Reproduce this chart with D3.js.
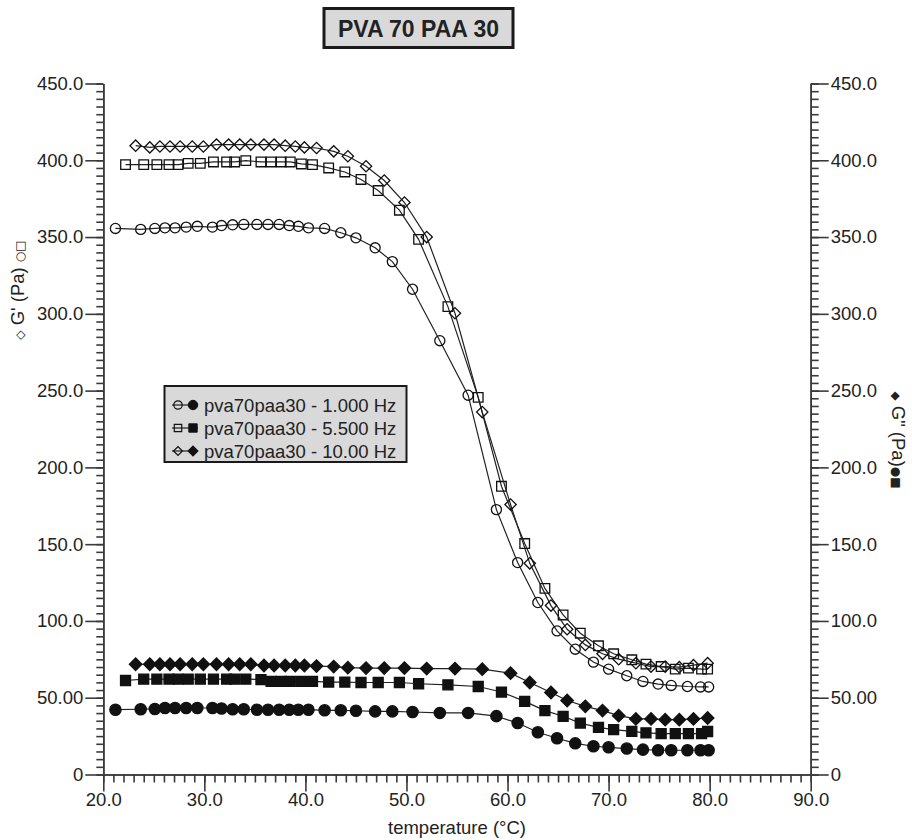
<!DOCTYPE html>
<html><head><meta charset="utf-8">
<script src="https://cdn.jsdelivr.net/npm/d3@7"></script>
<style>
body{margin:0;background:#fff}
svg{display:block}
text{font-family:"Liberation Sans",Arial,Helvetica,sans-serif;fill:#222}
</style>
</head><body>
<svg id="c" width="912" height="840"></svg>
<script>
const title = "PVA 70 PAA 30";
const xLabel = "temperature (°C)";
const seriesNames = ["pva70paa30 - 1.000 Hz", "pva70paa30 - 5.500 Hz", "pva70paa30 - 10.00 Hz"];
const xTickValues = [20, 30, 40, 50, 60, 70, 80, 90];
const xTickLabels = ["20.0", "30.0", "40.0", "50.0", "60.0", "70.0", "80.0", "90.0"];
const yTickValues = [0, 50, 100, 150, 200, 250, 300, 350, 400, 450];
const yTickLabels = ["0", "50.00", "100.0", "150.0", "200.0", "250.0", "300.0", "350.0", "400.0", "450.0"];

// 1.000 Hz
const temp1 = [21.2, 23.7, 25.1, 26.1, 27.1, 28.2, 29.3, 30.8, 31.7, 32.8, 33.9, 35.2, 36.3, 37.4, 38.4, 39.3, 40.3, 41.9, 43.5, 45.0, 46.9, 48.6, 50.6, 53.3, 56.1, 58.9, 61.0, 63.0, 64.9, 66.7, 68.5, 70.0, 71.8, 73.4, 74.9, 76.2, 77.8, 79.1, 79.9];
const gp1 = [355.6, 355.0, 355.6, 356.0, 356.0, 356.5, 357.0, 356.5, 357.5, 358.0, 358.2, 358.2, 358.2, 358.2, 357.5, 357.0, 356.0, 355.6, 352.8, 349.5, 343.0, 334.0, 316.0, 282.5, 247.0, 172.5, 138.0, 112.0, 93.5, 81.6, 73.2, 68.6, 64.3, 60.6, 58.9, 58.0, 57.3, 57.0, 57.0];
const gpp1 = [42.2, 42.5, 42.7, 43.3, 43.3, 43.3, 43.3, 43.3, 43.0, 42.5, 42.5, 42.2, 42.2, 42.2, 42.2, 42.2, 42.2, 41.8, 41.8, 41.5, 41.1, 41.1, 40.7, 40.1, 40.1, 38.0, 33.5, 27.5, 23.6, 20.3, 18.4, 17.7, 16.9, 16.2, 15.8, 15.8, 15.8, 15.8, 15.8];
// 5.500 Hz
const temp2 = [22.2, 24.0, 25.3, 26.5, 27.4, 28.4, 29.6, 30.9, 32.2, 33.0, 34.1, 35.6, 36.6, 37.6, 38.5, 39.6, 40.7, 42.3, 43.9, 45.5, 47.2, 49.3, 51.2, 54.1, 57.1, 59.4, 61.7, 63.7, 65.5, 67.2, 69.0, 70.5, 72.3, 73.7, 75.2, 76.6, 77.9, 79.2, 79.8];
const gp2 = [397.2, 397.2, 397.2, 397.2, 397.2, 398.0, 398.0, 398.9, 398.9, 398.9, 399.8, 398.9, 398.9, 398.9, 398.9, 397.6, 397.2, 395.0, 392.4, 387.5, 380.3, 367.5, 348.5, 304.7, 245.6, 187.7, 150.4, 121.2, 103.9, 92.0, 83.8, 78.6, 74.7, 71.9, 70.3, 68.6, 69.3, 68.6, 68.6];
const gpp2 = [61.2, 62.1, 62.1, 62.1, 62.1, 62.1, 62.1, 62.1, 62.1, 62.1, 62.1, 61.8, 60.6, 60.6, 60.6, 60.6, 60.6, 60.2, 60.2, 59.9, 59.9, 59.9, 59.1, 58.4, 57.3, 53.7, 47.6, 41.6, 37.9, 33.5, 30.7, 29.2, 28.1, 27.1, 26.6, 26.6, 26.6, 26.6, 28.0];
// 10.00 Hz
const temp3 = [23.2, 24.6, 25.6, 26.6, 27.6, 28.8, 29.9, 31.2, 32.4, 33.5, 34.6, 35.9, 36.9, 38.0, 39.0, 39.9, 41.1, 42.8, 44.2, 46.0, 47.8, 49.8, 52.0, 54.8, 57.5, 60.3, 62.2, 64.3, 65.9, 67.7, 69.4, 71.0, 72.7, 74.2, 75.6, 77.0, 78.4, 79.8];
const gp3 = [409.5, 408.4, 409.0, 409.0, 409.0, 409.0, 409.0, 410.2, 410.2, 410.2, 410.2, 410.2, 410.2, 409.5, 409.0, 408.4, 408.0, 405.8, 402.6, 396.1, 386.8, 372.5, 350.0, 300.4, 236.0, 175.8, 137.5, 110.0, 94.6, 84.4, 78.6, 75.1, 72.5, 70.3, 70.3, 69.9, 71.2, 72.5];
const gpp3 = [71.8, 71.8, 71.8, 71.8, 71.8, 71.8, 71.8, 71.8, 71.8, 71.8, 71.8, 71.0, 71.0, 71.0, 71.0, 71.0, 70.6, 70.3, 69.6, 69.3, 69.3, 69.3, 69.0, 69.0, 68.6, 66.0, 59.9, 53.4, 48.2, 44.4, 41.6, 38.3, 36.2, 36.2, 35.7, 35.7, 36.2, 36.8];

const svg = d3.select("#c");
const ink = "#222";
const axisInk = "#3a3a3a";
const fs = 18.5;

const x = d3.scaleLinear().domain([20, 90]).range([103.3, 810.7]);
const y = d3.scaleLinear().domain([0, 450]).range([774.5, 83.5]);

// ---- axes ----
function styleAxis(g) {
  g.select(".domain").attr("stroke", axisInk).attr("stroke-width", 1.6);
  g.selectAll(".tick line").attr("stroke", axisInk).attr("stroke-width", 1.6);
  g.selectAll(".tick text").attr("font-size", fs).attr("font-family", '"Liberation Sans",Arial,sans-serif').attr("fill", ink);
}
const xMinor = d3.range(20, 91, 1);
const yMinor = d3.range(0, 451, 5);

svg.append("g").attr("transform", `translate(0,${y(0)})`)
  .call(d3.axisBottom(x).tickValues(xMinor).tickSize(8).tickFormat("").tickSizeOuter(0)).call(styleAxis);
svg.append("g").attr("transform", `translate(0,${y(0)})`)
  .call(d3.axisBottom(x).tickValues(xTickValues).tickSize(17).tickPadding(1).tickSizeOuter(0)
    .tickFormat((d, i) => xTickLabels[i])).call(styleAxis);

svg.append("g").attr("transform", `translate(${x(20)},0)`)
  .call(d3.axisLeft(y).tickValues(yMinor).tickSize(7).tickFormat("").tickSizeOuter(0)).call(styleAxis);
svg.append("g").attr("transform", `translate(${x(20)},0)`)
  .call(d3.axisLeft(y).tickValues(yTickValues).tickSize(18).tickPadding(2).tickSizeOuter(0)
    .tickFormat((d, i) => yTickLabels[i])).call(styleAxis);

svg.append("g").attr("transform", `translate(${x(90)},0)`)
  .call(d3.axisRight(y).tickValues(yMinor).tickSize(8).tickFormat("").tickSizeOuter(0)).call(styleAxis);
svg.append("g").attr("transform", `translate(${x(90)},0)`)
  .call(d3.axisRight(y).tickValues(yTickValues).tickSize(18).tickPadding(2).tickSizeOuter(0)
    .tickFormat((d, i) => yTickLabels[i])).call(styleAxis);

// axis titles
svg.append("text").attr("x", 457).attr("y", 834).attr("text-anchor", "middle")
  .attr("font-size", fs).text(xLabel);

const lt = svg.append("text").attr("transform", "translate(24,290) rotate(-90)")
  .attr("text-anchor", "middle").attr("font-size", fs);
lt.append("tspan").attr("font-size", 12).attr("font-family", "DejaVu Sans").text("◇");
lt.append("tspan").text(" G' (Pa) ");
lt.append("tspan").attr("font-size", 12).attr("font-family", "DejaVu Sans").text("○□");

const rt = svg.append("text").attr("transform", "translate(892,440) rotate(90)")
  .attr("text-anchor", "middle").attr("font-size", fs);
rt.append("tspan").attr("font-size", 12).attr("font-family", "DejaVu Sans").text("◆");
rt.append("tspan").text(" G\" (Pa)");
rt.append("tspan").attr("font-size", 12).attr("font-family", "DejaVu Sans").text("●■");

// ---- series ----
const line = d3.line().x(d => x(d[0])).y(d => y(d[1]));
const shapes = {
  circle: d3.symbol(d3.symbolCircle, 80),
  square: d3.symbol(d3.symbolSquare, 92),
  diamond: d3.symbol(d3.symbolSquare, 64)
};
const shapesFilled = {
  circle: d3.symbol(d3.symbolCircle, 100),
  square: d3.symbol(d3.symbolSquare, 100),
  diamond: d3.symbol(d3.symbolSquare, 78)
};
const series = [
  {t: temp1, v: gp1, shape: "circle", filled: false},
  {t: temp1, v: gpp1, shape: "circle", filled: true},
  {t: temp2, v: gp2, shape: "square", filled: false},
  {t: temp2, v: gpp2, shape: "square", filled: true},
  {t: temp3, v: gp3, shape: "diamond", filled: false},
  {t: temp3, v: gpp3, shape: "diamond", filled: true}
];
const plot = svg.append("g");
series.forEach(s => {
  const pts = s.t.map((t, i) => [t, s.v[i]]);
  plot.append("path").datum(pts).attr("d", line)
    .attr("fill", "none").attr("stroke", ink).attr("stroke-width", 1.2);
  const gen = s.filled ? shapesFilled[s.shape] : shapes[s.shape];
  plot.selectAll(null).data(pts).enter().append("path")
    .attr("transform", d => `translate(${x(d[0])},${y(d[1])})` + (s.shape === "diamond" ? " rotate(45)" : ""))
    .attr("d", gen)
    .attr("fill", s.filled ? "#111" : "none")
    .attr("stroke", "#111").attr("stroke-width", 1.3);
});

// ---- title box ----
svg.append("rect").attr("x", 324).attr("y", 8.5).attr("width", 189).attr("height", 39)
  .attr("fill", "#d9d9d9").attr("stroke", "#1a1a1a").attr("stroke-width", 3);
svg.append("text").attr("x", 418.5).attr("y", 36.5).attr("text-anchor", "middle")
  .attr("font-size", 23).attr("font-weight", "bold").text(title);

// ---- legend ----
const lg = svg.append("g");
lg.append("rect").attr("x", 164.5).attr("y", 386).attr("width", 242).attr("height", 76)
  .attr("fill", "#d9d9d9").attr("stroke", "#1a1a1a").attr("stroke-width", 2);
const legShapes = ["circle", "square", "diamond"];
seriesNames.forEach((name, i) => {
  const yy = 405 + i * 23;
  lg.append("line").attr("x1", 172).attr("x2", 198).attr("y1", yy).attr("y2", yy)
    .attr("stroke", ink).attr("stroke-width", 1.2);
  lg.append("path").attr("transform", `translate(178,${yy})` + (legShapes[i] === "diamond" ? " rotate(45)" : ""))
    .attr("d", d3.symbol(legShapes[i] === "circle" ? d3.symbolCircle : d3.symbolSquare, legShapes[i] === "diamond" ? 40 : 55))
    .attr("fill", "none").attr("stroke", "#111").attr("stroke-width", 1.2);
  lg.append("path").attr("transform", `translate(193,${yy})` + (legShapes[i] === "diamond" ? " rotate(45)" : ""))
    .attr("d", d3.symbol(legShapes[i] === "circle" ? d3.symbolCircle : d3.symbolSquare, legShapes[i] === "diamond" ? 50 : 70))
    .attr("fill", "#111").attr("stroke", "#111").attr("stroke-width", 1);
  lg.append("text").attr("x", 204).attr("y", yy).attr("dy", "0.36em")
    .attr("font-size", fs).text(name);
});
</script>
</body></html>
